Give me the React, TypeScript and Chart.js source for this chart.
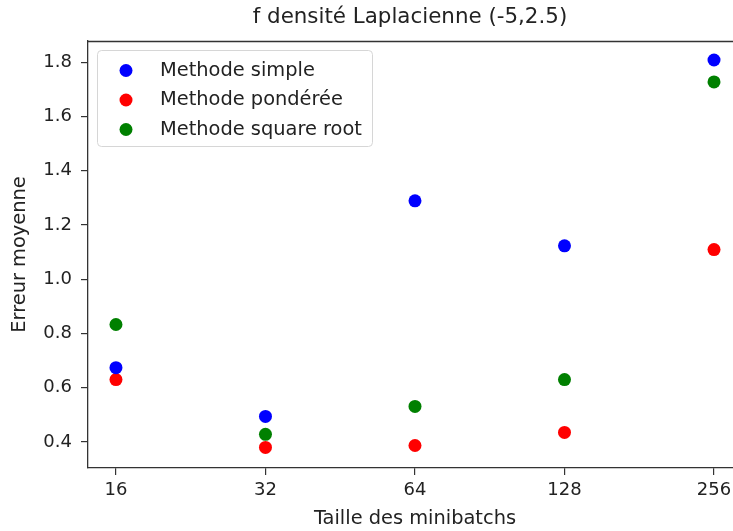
import React, { useEffect, useRef } from "react";
import { Chart, registerables } from "chart.js";

Chart.register(...registerables);

const xLabels = ["16", "32", "64", "128", "256"];
const yTicks = [0.4, 0.6, 0.8, 1.0, 1.2, 1.4, 1.6, 1.8];
const simple = [0.674, 0.494, 1.289, 1.123, 1.808];
const ponderee = [0.63, 0.38, 0.387, 0.435, 1.109];
const squareRoot = [0.833, 0.428, 0.531, 0.63, 1.727];

const titleText = "f densité Laplacienne (-5,2.5)";
const xTitle = "Taille des minibatchs";
const yTitle = "Erreur moyenne";

const FONT = "'DejaVu Sans', sans-serif";

const toPoints = (arr: number[]) => arr.map((v, i) => ({ x: i, y: v }));

const decorPlugin = {
  id: "decor",
  afterDraw(chart: any) {
    const ctx = chart.ctx as CanvasRenderingContext2D;
    const ca = chart.chartArea;
    const xs = chart.scales.x;
    ctx.save();
    // top spine
    ctx.strokeStyle = "#333";
    ctx.lineWidth = 1.3;
    ctx.beginPath();
    ctx.moveTo(ca.left, ca.top + 0.5);
    ctx.lineTo(chart.width, ca.top + 0.5);
    ctx.stroke();
    // title
    const cx = xs.getPixelForValue(2);
    ctx.fillStyle = "#222";
    ctx.font = `21.4px ${FONT}`;
    ctx.textAlign = "center";
    ctx.textBaseline = "middle";
    ctx.fillText(titleText, cx - 5, 17.5);
    // x title
    ctx.font = `19.4px ${FONT}`;
    ctx.fillText(xTitle, cx, 519);
    // y title
    ctx.save();
    ctx.translate(20, (ca.top + ca.bottom) / 2);
    ctx.rotate(-Math.PI / 2);
    ctx.fillText(yTitle, 0, 0);
    ctx.restore();
    // legend
    const bx = 97.5, by = 50.5, bw = 275, bh = 96, r = 4;
    ctx.beginPath();
    ctx.moveTo(bx + r, by);
    ctx.lineTo(bx + bw - r, by);
    ctx.arcTo(bx + bw, by, bx + bw, by + r, r);
    ctx.lineTo(bx + bw, by + bh - r);
    ctx.arcTo(bx + bw, by + bh, bx + bw - r, by + bh, r);
    ctx.lineTo(bx + r, by + bh);
    ctx.arcTo(bx, by + bh, bx, by + bh - r, r);
    ctx.lineTo(bx, by + r);
    ctx.arcTo(bx, by, bx + r, by, r);
    ctx.closePath();
    ctx.fillStyle = "rgba(255,255,255,0.8)";
    ctx.fill();
    ctx.strokeStyle = "#d6d6d6";
    ctx.lineWidth = 1;
    ctx.stroke();
    const rows = [70.5, 100, 129.5];
    chart.data.datasets.forEach((ds: any, i: number) => {
      ctx.beginPath();
      ctx.arc(126, rows[i], 6.5, 0, Math.PI * 2);
      ctx.fillStyle = ds.backgroundColor;
      ctx.fill();
      ctx.fillStyle = "#222";
      ctx.font = `19.4px ${FONT}`;
      ctx.textAlign = "left";
      ctx.textBaseline = "middle";
      ctx.fillText(ds.label, 160, rows[i]);
    });
    ctx.restore();
  },
};

export default function App() {
  const ref = useRef<HTMLCanvasElement>(null);
  useEffect(() => {
    if (!ref.current) return;
    const chart = new Chart(ref.current, {
      type: "scatter",
      data: {
        datasets: [
          { label: "Methode simple", data: toPoints(simple), backgroundColor: "#0000ff", borderWidth: 0, pointRadius: 6.5 },
          { label: "Methode pondérée", data: toPoints(ponderee), backgroundColor: "#ff0000", borderWidth: 0, pointRadius: 6.5 },
          { label: "Methode square root", data: toPoints(squareRoot), backgroundColor: "#008000", borderWidth: 0, pointRadius: 6.5 },
        ],
      },
      options: {
        animation: false,
        responsive: false,
        events: [],
        layout: { autoPadding: false, padding: { top: 41, right: 0, left: 0, bottom: 0 } },
        plugins: { legend: { display: false }, title: { display: false }, tooltip: { enabled: false } },
        scales: {
          x: {
            type: "linear",
            min: -0.187,
            max: 4.127,
            afterBuildTicks: (s: any) => {
              s.ticks = xLabels.map((_, i) => ({ value: i }));
            },
            afterFit: (s: any) => {
              s.height = 63;
              s.paddingLeft = 0;
              s.paddingRight = 0;
            },
            ticks: {
              callback: (v: any) => xLabels[Math.round(v)] ?? "",
              font: { family: FONT, size: 18 },
              color: "#222",
              padding: 5,
              maxRotation: 0,
              autoSkip: false,
            },
            grid: { drawOnChartArea: false, drawTicks: true, tickLength: 7, color: "#333", lineWidth: 1.2 },
            border: { display: true, color: "#333", width: 1.3 },
          },
          y: {
            type: "linear",
            min: 0.304,
            max: 1.878,
            afterBuildTicks: (s: any) => {
              s.ticks = yTicks.map((v) => ({ value: v }));
            },
            afterFit: (s: any) => {
              s.width = 88;
              s.paddingTop = 0;
              s.paddingBottom = 0;
            },
            ticks: {
              callback: (v: any) => Number(v).toFixed(1),
              font: { family: FONT, size: 18 },
              color: "#222",
              padding: 9,
            },
            grid: { drawOnChartArea: false, drawTicks: true, tickLength: 7, color: "#333", lineWidth: 1.2 },
            border: { display: true, color: "#333", width: 1.3 },
          },
        },
      },
      plugins: [decorPlugin],
    });
    return () => chart.destroy();
  }, []);
  return (
    <div style={{ position: "fixed", left: 0, top: 0, width: 733, height: 531, background: "#fff" }}>
      <canvas ref={ref} width={733} height={531} style={{ width: 733, height: 531, display: "block" }} />
    </div>
  );
}
